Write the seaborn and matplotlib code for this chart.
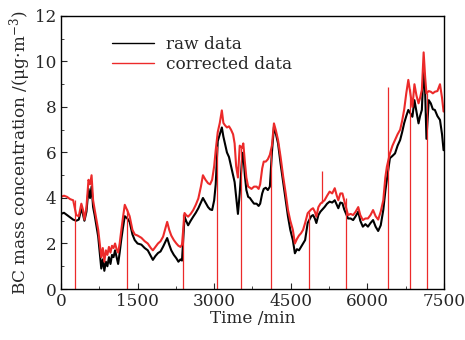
#!/usr/bin/env python

import numpy as np
import pandas as pd
import matplotlib as mpl
import matplotlib.pyplot as plt
import seaborn as sns
from matplotlib.ticker import MultipleLocator

sns.set_style('ticks')
mpl.rcParams['font.family'] = ['DejaVu Serif']
mpl.rcParams['mathtext.fontset'] = 'dejavuserif'
fs = 12.2

# time (min) and BC concentration
t_min = [0, 60, 120, 180, 240, 300, 350, 400, 430, 460, 500, 540, 570, 600,
         630, 660, 700, 730, 760, 790, 820, 850, 880, 910, 940, 970, 1000,
         1030, 1060, 1090, 1120, 1150, 1180, 1215, 1250, 1300, 1345, 1400,
         1445, 1500, 1575, 1640, 1700, 1760, 1800, 1850, 1900, 1950, 2000,
         2050, 2080, 2120, 2160, 2210, 2260, 2300, 2340, 2370, 2420, 2450,
         2490, 2540, 2590, 2640, 2690, 2740, 2780, 2830, 2880, 2920, 2960,
         3000, 3030, 3070, 3110, 3150, 3180, 3210, 3250, 3290, 3330, 3370,
         3400, 3430, 3465, 3500, 3545, 3570, 3600, 3630, 3665, 3700, 3730,
         3780, 3830, 3870, 3900, 3940, 3970, 4010, 4050, 4090, 4130, 4170,
         4210, 4250, 4300, 4350, 4400, 4445, 4490, 4540, 4580, 4620, 4660,
         4700, 4740, 4780, 4830, 4900, 4935, 4970, 5000, 5040, 5080, 5160,
         5210, 5260, 5310, 5360, 5400, 5430, 5470, 5510, 5545, 5620, 5670,
         5720, 5770, 5820, 5860, 5910, 5960, 6010, 6060, 6110, 6160, 6210,
         6260, 6310, 6350, 6380, 6440, 6490, 6540, 6590, 6640, 6680, 6720,
         6760, 6800, 6880, 6920, 6960, 7000, 7030, 7065, 7100, 7130, 7155,
         7200, 7240, 7280, 7320, 7370, 7420, 7460, 7490]

raw = [3.30, 3.35, 3.25, 3.15, 3.05, 3.00, 3.05, 3.55, 3.30, 3.00, 3.40,
       4.40, 4.00, 4.50, 3.60, 3.25, 2.70, 2.30, 1.60, 0.90, 1.30, 0.80,
       1.20, 1.00, 1.40, 1.10, 1.50, 1.40, 1.70, 1.40, 1.10, 1.60, 2.15,
       2.70, 3.20, 3.10, 2.95, 2.40, 2.15, 2.00, 1.95, 1.80, 1.70, 1.45,
       1.28, 1.45, 1.58, 1.65, 1.86, 2.10, 2.24, 1.95, 1.70, 1.50, 1.35,
       1.20, 1.30, 1.25, 3.18, 3.00, 2.80, 3.00, 3.18, 3.35, 3.55, 3.80,
       4.00, 3.80, 3.60, 3.50, 3.47, 3.90, 4.60, 6.50, 6.80, 7.10, 6.70,
       6.40, 6.00, 5.80, 5.40, 5.00, 4.70, 4.05, 3.30, 4.20, 5.70, 6.00,
       5.00, 4.35, 4.05, 4.00, 3.90, 3.75, 3.75, 3.65, 3.75, 4.20, 4.40,
       4.45, 4.35, 4.50, 6.00, 7.13, 6.80, 6.40, 5.50, 4.70, 3.90, 3.18,
       2.60, 2.15, 1.57, 1.75, 1.70, 1.85, 2.00, 2.15, 2.90, 3.20, 3.25,
       3.10, 2.90, 3.25, 3.40, 3.60, 3.75, 3.84, 3.80, 3.90, 3.70, 3.55,
       3.80, 3.77, 3.50, 3.10, 3.10, 3.03, 3.20, 3.40, 3.00, 2.74, 2.85,
       2.74, 2.90, 3.03, 2.74, 2.55, 2.80, 3.47, 4.30, 4.80, 5.75, 5.85,
       5.96, 6.30, 6.55, 6.90, 7.30, 7.60, 7.87, 7.57, 8.30, 7.80, 7.28,
       7.60, 7.87, 9.80, 8.60, 6.60, 8.30, 8.16, 7.90, 7.87, 7.60, 7.43,
       6.80, 6.10]

corrected = [4.05, 4.10, 4.05, 3.95, 3.90, 3.25, 3.20, 3.75, 3.50, 3.05,
             3.60, 4.80, 4.60, 5.00, 3.90, 3.50, 3.00, 2.60, 2.00, 1.40,
             1.80, 1.20, 1.70, 1.50, 1.85, 1.60, 1.90, 1.80, 2.00, 1.75,
             1.60, 2.00, 2.55, 3.15, 3.70, 3.45, 3.20, 2.60, 2.40, 2.35,
             2.25, 2.10, 2.00, 1.80, 1.70, 1.85, 2.00, 2.10, 2.30, 2.70,
             2.95, 2.60, 2.35, 2.15, 2.00, 1.90, 1.85, 1.95, 3.34, 3.25,
             3.18, 3.30, 3.47, 3.70, 3.98, 4.50, 5.00, 4.80, 4.65, 4.60,
             4.80, 5.40, 6.10, 6.90, 7.30, 7.85, 7.30, 7.20, 7.10, 7.15,
             7.00, 6.80, 6.40, 5.40, 4.90, 6.30, 6.20, 6.40, 5.60, 4.90,
             4.50, 4.45, 4.40, 4.50, 4.50, 4.40, 4.60, 5.30, 5.60, 5.60,
             5.70, 5.90, 6.30, 7.28, 6.95, 6.55, 5.80, 4.95, 4.20, 3.47,
             3.00, 2.60, 2.00, 2.20, 2.35, 2.45, 2.60, 2.90, 3.33, 3.50,
             3.55, 3.40, 3.18, 3.60, 3.75, 3.90, 4.10, 4.28, 4.20, 4.43,
             4.10, 3.90, 4.20, 4.20, 3.90, 3.25, 3.30, 3.25, 3.40, 3.60,
             3.25, 3.03, 3.10, 3.10, 3.25, 3.47, 3.20, 3.05, 3.40, 3.90,
             4.90, 5.37, 5.96, 6.30, 6.55, 6.80, 7.00, 7.40, 7.90, 8.60,
             9.19, 8.00, 9.00, 8.50, 8.16, 8.40, 8.75, 10.40, 9.30, 8.60,
             8.70, 8.67, 8.60, 8.67, 8.70, 9.00, 8.40, 7.80]

# filter-change spikes in the corrected series
spike_t = [268, 1287, 2395, 3049, 3519, 4106, 4862, 5117, 5574, 6396, 6840, 7167]
spike_lo = [0, 0, 0, 0, 0, 0, 0, 3.8, 0, 0, 0, 0]
spike_hi = [3.9, 3.5, 3.3, 6.3, 6.2, 6.1, 3.4, 5.2, 4.0, 8.9, 8.8, 8.6]

df = pd.DataFrame({'t': t_min, 'raw': raw, 'corrected': corrected})

fig, ax = plt.subplots(figsize=(4.65, 3.4), dpi=100)
fig.subplots_adjust(left=0.131, right=0.955, bottom=0.15, top=0.953)

red = '#ec2a2a'
sns.lineplot(data=df, x='t', y='raw', ax=ax, color='black', lw=1.5,
             estimator=None, label='raw data')
sns.lineplot(data=df, x='t', y='corrected', ax=ax, color=red, lw=1.5,
             estimator=None, label='corrected data')
ax.vlines(spike_t, spike_lo, spike_hi, color=red, lw=0.9)

ax.set_xlim(0, 7500)
ax.set_ylim(0, 12)
ax.xaxis.set_major_locator(MultipleLocator(1500))
ax.xaxis.set_minor_locator(MultipleLocator(750))
ax.yaxis.set_major_locator(MultipleLocator(2))
ax.yaxis.set_minor_locator(MultipleLocator(1))
ax.tick_params(which='both', direction='in', top=False, right=False,
               labelsize=fs, pad=3)
ax.tick_params(which='major', length=4)
ax.tick_params(which='minor', length=2.5)
for s in ax.spines.values():
    s.set_color('black')
    s.set_linewidth(1.0)

ax.set_xlabel('Time /min', fontsize=fs, labelpad=0)
ax.set_ylabel('BC mass concentration /(μg·m$^{-3}$)', fontsize=fs, labelpad=2)

leg = ax.legend(loc='upper left', bbox_to_anchor=(0.115, 0.95), frameon=False,
                fontsize=fs, handlelength=2.5, handletextpad=0.7,
                labelspacing=0.15, borderaxespad=0)
for h in leg.get_lines():
    h.set_linewidth(1.0)

fig.savefig('out.png', dpi=100)
